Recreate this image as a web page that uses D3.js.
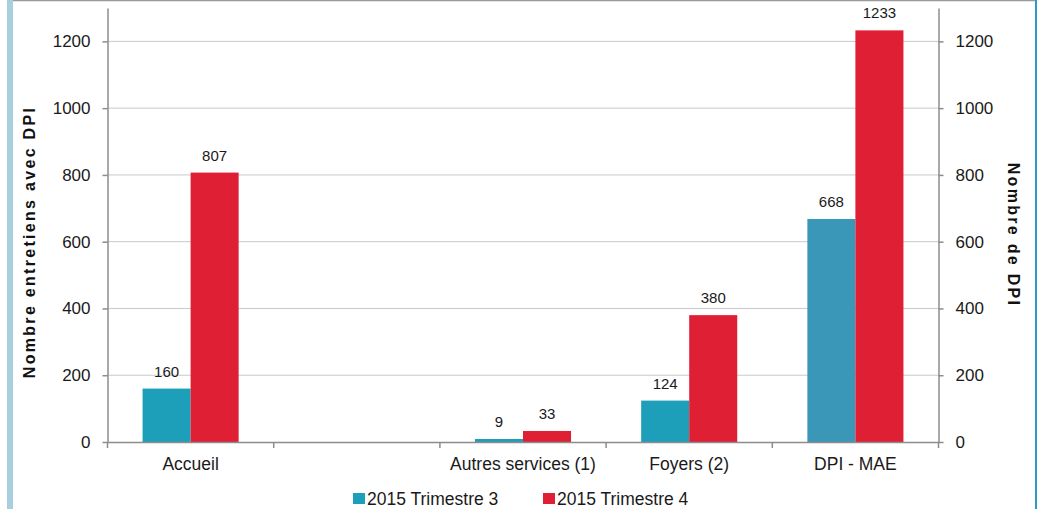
<!DOCTYPE html>
<html>
<head>
<meta charset="utf-8">
<script src="https://cdn.jsdelivr.net/npm/d3@7"></script>
<style>
  body { margin: 0; background: #fff; }
  svg { font-family: "Liberation Sans", Arial, sans-serif; display: block; }
  .grid line { stroke: #c9c9c9; stroke-width: 1; }
  .axis path, .axis line { stroke: #8c8c8c; stroke-width: 1.5; }
  .axis text { font-size: 17px; fill: #1a1a1a; }
  .axis.xaxis text { font-size: 17.5px; }
  .val { font-size: 15px; fill: #1a1a1a; text-anchor: middle; }
  .ytitle { font-size: 16px; font-weight: bold; letter-spacing: 2.3px; fill: #111; }
  .legend text { font-size: 17.5px; fill: #1a1a1a; }
</style>
</head>
<body>
<svg width="1050" height="509"></svg>
<script>
const categories = ["Accueil", "", "Autres services (1)", "Foyers (2)", "DPI - MAE"]
const series = ["2015 Trimestre 3", "2015 Trimestre 4"]
const trimestre3 = [160, null, 9, 124, 668]
const trimestre4 = [807, null, 33, 380, 1233]
const yTicks = [0, 200, 400, 600, 800, 1000, 1200]

const svg = d3.select("svg"),
      plot = {left: 107.5, right: 938.5, top: 8, bottom: 442}

const colors = d3.scaleOrdinal().domain(series).range(["#1e9fb9", "#df1f34"])
// last blue bar in the original is a slightly different shade
const blueShades = ["#1e9fb9", "#1e9fb9", "#1e9fb9", "#1e9fb9", "#3a97b8"]

const x = d3.scaleBand().domain(categories).range([plot.left, plot.right]).padding(0),
      x1 = d3.scaleBand().domain(series).range([0, x.bandwidth()]).paddingInner(0).paddingOuter(0.73),
      y = d3.scaleLinear().domain([0, 1300]).range([plot.bottom, plot.top])

// frame
svg.append("line").attr("x1", 13).attr("x2", 1036).attr("y1", 0.5).attr("y2", 0.5)
  .style("stroke", "#9a9a9a").style("stroke-width", 1.5)
svg.append("rect").attr("x", 7).attr("y", 0).attr("width", 6).attr("height", 509).style("fill", "#a7cfe0")
svg.append("rect").attr("x", 1035).attr("y", 0).attr("width", 2).attr("height", 509).style("fill", "#2a9cc3")

// gridlines
svg.append("g").attr("class", "grid")
  .selectAll("line").data(yTicks.slice(1)).enter().append("line")
    .attr("x1", plot.left).attr("x2", plot.right)
    .attr("y1", d => y(d)).attr("y2", d => y(d))

// bars
let rows = categories.map((c, i) => ({cat: c, i: i, values: [trimestre3[i], trimestre4[i]]}))

let groups = svg.selectAll(".group").data(rows).enter().append("g")
  .attr("class", "group")
  .attr("transform", d => "translate(" + x(d.cat) + ",0)")

let bars = groups.selectAll("g.bar")
  .data(d => d.values.map((v, k) => ({s: series[k], v: v, i: d.i})).filter(z => z.v !== null))
  .enter().append("g").attr("class", "bar")

bars.append("rect")
  .attr("x", d => x1(d.s))
  .attr("width", x1.bandwidth())
  .attr("y", d => y(d.v))
  .attr("height", d => y(0) - y(d.v))
  .style("fill", d => d.s === series[0] ? blueShades[d.i] : colors(d.s))

bars.append("text").attr("class", "val")
  .attr("x", d => x1(d.s) + x1.bandwidth() / 2)
  .attr("y", d => y(d.v) - 12)
  .text(d => d.v)

// axes
svg.append("g").attr("class", "axis")
  .attr("transform", "translate(" + plot.left + ",0)")
  .call(d3.axisLeft(y).tickValues(yTicks).tickFormat(d3.format("d")).tickSize(5).tickPadding(12).tickSizeOuter(0))

svg.append("g").attr("class", "axis")
  .attr("transform", "translate(" + plot.right + ",0)")
  .call(d3.axisRight(y).tickValues(yTicks).tickFormat(d3.format("d")).tickSize(5).tickPadding(12).tickSizeOuter(0))

let xAxis = svg.append("g").attr("class", "axis xaxis")
  .attr("transform", "translate(0," + plot.bottom + ")")
  .call(d3.axisBottom(x).tickSize(0).tickPadding(16).tickSizeOuter(0))

// tick marks at category boundaries
xAxis.selectAll(".bound")
  .data(categories.map(c => x(c)).concat([x(categories[categories.length - 1]) + x.bandwidth()]))
  .enter().append("line").attr("class", "bound")
    .attr("x1", d => d).attr("x2", d => d)
    .attr("y1", 0).attr("y2", 6)

// axis titles
svg.append("text").attr("class", "ytitle")
  .attr("transform", "translate(35,242) rotate(-90)")
  .attr("text-anchor", "middle")
  .text("Nombre entretiens avec DPI")

svg.append("text").attr("class", "ytitle")
  .attr("transform", "translate(1008,235) rotate(90)")
  .attr("text-anchor", "middle")
  .text("Nombre de DPI")

// legend
let legend = svg.append("g").attr("class", "legend")
  .selectAll("g").data(series).enter().append("g")
  .attr("transform", (d, i) => "translate(" + (353 + i * 190) + ",492)")

legend.append("rect").attr("width", 12).attr("height", 11).attr("y", 1)
  .style("fill", d => colors(d))
legend.append("text").attr("x", 14).attr("y", 12.5).text(d => d)
</script>
</body>
</html>
